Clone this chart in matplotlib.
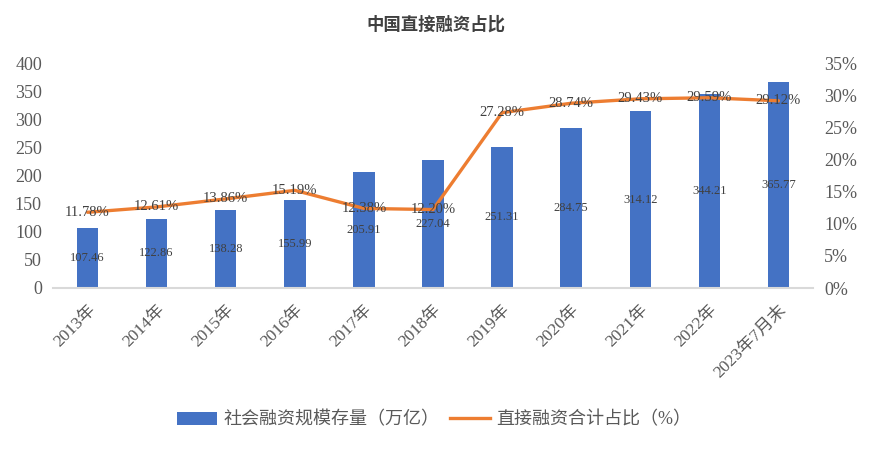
import matplotlib
matplotlib.use("Agg")
import matplotlib.pyplot as plt
from matplotlib.patches import Patch
from matplotlib.lines import Line2D
from matplotlib.ticker import FuncFormatter, MultipleLocator

plt.rcParams['font.family'] = ['Liberation Serif', 'Noto Sans CJK SC', 'DejaVu Sans']

categories = ["2013年", "2014年", "2015年", "2016年", "2017年", "2018年",
              "2019年", "2020年", "2021年", "2022年", "2023年7月末"]
stock = [107.46, 122.86, 138.28, 155.99, 205.91, 227.04,
         251.31, 284.75, 314.12, 344.21, 365.77]
ratio = [11.78, 12.61, 13.86, 15.19, 12.38, 12.20,
         27.28, 28.74, 29.43, 29.59, 29.12]

bar_color = "#4472C4"
line_color = "#ED7D31"
text_color = "#595959"

fig = plt.figure(figsize=(8.72, 4.49), dpi=100)
ax = fig.add_axes([53/872, 161/449, 760/872, 225/449])
ax2 = ax.twinx()

x = list(range(len(categories)))
ax.bar(x, stock, width=0.31, color=bar_color, zorder=2)
ax.set_xlim(-0.5, len(categories) - 0.5)
ax.set_ylim(0, 400)
ax.yaxis.set_major_locator(MultipleLocator(50))

for xi, v in zip(x, stock):
    ax.text(xi, v / 2, f"{v:.2f}", ha="center", va="center",
            fontsize=9, color="#404040", zorder=3)

ax2.plot(x, ratio, color=line_color, lw=2.4, solid_capstyle="round",
         solid_joinstyle="round", zorder=3)
ax2.set_ylim(0, 35)
ax2.yaxis.set_major_locator(MultipleLocator(5))
ax2.yaxis.set_major_formatter(FuncFormatter(lambda v, p: f"{v:.0f}%"))
for xi, v in zip(x, ratio):
    ax2.text(xi, v, f"{v:.2f}%", ha="center", va="center",
             fontsize=10.5, color="#404040", zorder=4)

for a in (ax, ax2):
    for s in ("top", "right", "left"):
        a.spines[s].set_visible(False)
    a.spines["bottom"].set_color("#D9D9D9")
    a.spines["bottom"].set_linewidth(1.5)
    a.tick_params(length=0, colors=text_color, labelsize=13)
ax2.spines["bottom"].set_visible(False)

ax.tick_params(axis="y", pad=8)
ax2.tick_params(axis="y", pad=8)
ax.set_xticks(x)
ax.set_xticklabels(categories, rotation=45, ha="right", va="top",
                   rotation_mode="anchor", fontsize=12.5, color=text_color)
ax.tick_params(axis="x", pad=10)

fig.text(0.5, 1 - 25/449, "中国直接融资占比", ha="center", va="center",
         fontsize=12.5, fontweight="bold", color="#404040")

handles = [Patch(facecolor=bar_color, edgecolor="none"),
           Line2D([0], [0], color=line_color, lw=2.4)]
labels = ["社会融资规模存量（万亿）", "直接融资合计占比（%）"]
fig.legend(handles, labels, loc="center", bbox_to_anchor=(434/872, 1 - 420/449),
           ncol=2, frameon=False, fontsize=13, handlelength=2.2,
           handleheight=0.7, handletextpad=0.35, columnspacing=0.6,
           labelcolor=text_color)

fig.savefig("out.png", dpi=100)
